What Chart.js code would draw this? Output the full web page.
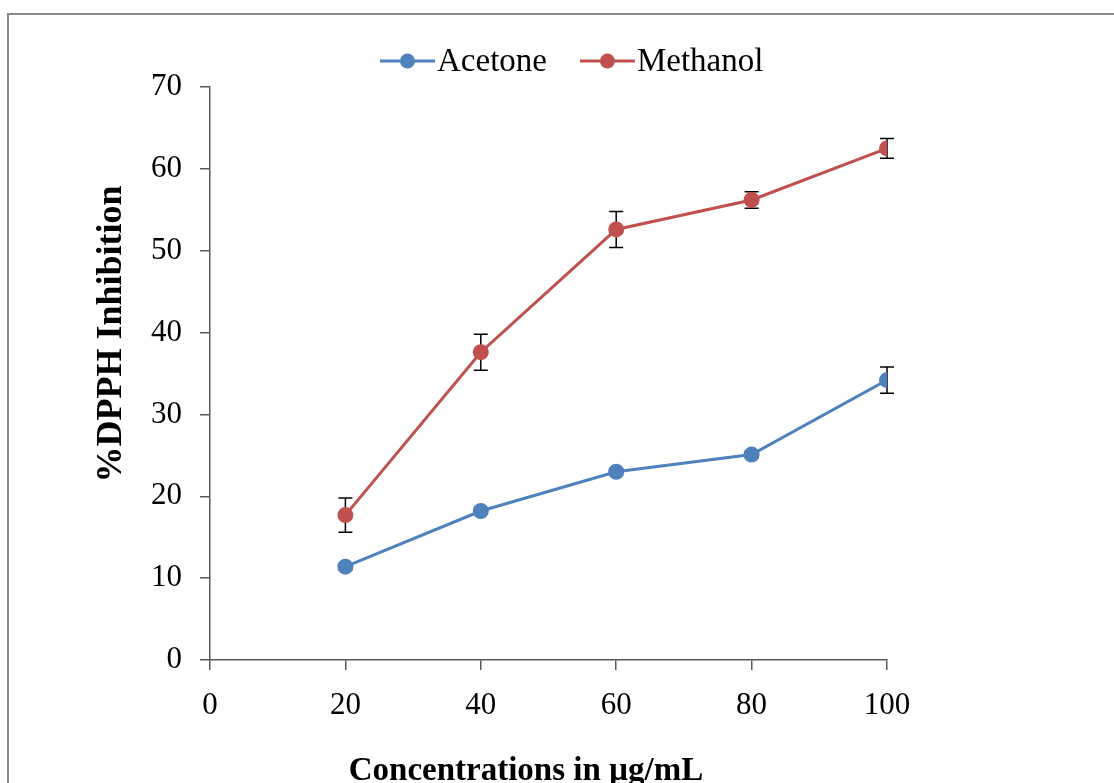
<!DOCTYPE html>
<html>
<head>
<meta charset="utf-8">
<script src="https://cdn.jsdelivr.net/npm/chart.js@4/dist/chart.umd.min.js"></script>
<style>
  html, body { margin: 0; padding: 0; background: #fff; overflow: hidden; }
  #wrap { position: relative; width: 1114px; height: 783px; }
  #frame { position: absolute; left: 7px; top: 13px; width: 1200px; height: 900px;
           border-left: 2px solid #8a8a8a; border-top: 2px solid #8a8a8a; pointer-events: none; }
  canvas { position: absolute; left: 0; top: 0; }
</style>
</head>
<body>
<div id="wrap">
  <canvas id="c" width="1114" height="783"></canvas>
  <div id="frame"></div>
</div>
<script>
// ---- data ----
const concentrations = [20, 40, 60, 80, 100];
const acetone = [11.4, 18.2, 23.0, 25.1, 34.2];
const acetoneErr = [0.4, 0.4, 0.4, 0.4, 1.6];
const methanol = [17.7, 37.6, 52.6, 56.2, 62.5];
const methanolErr = [2.1, 2.2, 2.2, 1.0, 1.2];
const seriesNames = ['Acetone', 'Methanol'];
const xTitle = 'Concentrations in µg/mL';
const yTitle = '%DPPH Inhibition';

const BLUE = '#4F81BD';
const RED = '#C0504D';
const AXIS = '#595959';
const SERIF = '"Liberation Serif", "Times New Roman", serif';

function pts(vals) { return concentrations.map((c, i) => ({ x: c, y: vals[i] })); }

const errorBars = {
  id: 'errorBars',
  beforeDatasetsDraw(chart) {
    const ctx = chart.ctx, xs = chart.scales.x, ys = chart.scales.y;
    ctx.save();
    ctx.strokeStyle = '#000';
    ctx.lineWidth = 1.5;
    chart.data.datasets.forEach(ds => {
      ds.data.forEach((p, i) => {
        const e = ds.errors[i];
        const px = xs.getPixelForValue(p.x);
        const top = ys.getPixelForValue(p.y + e);
        const bot = ys.getPixelForValue(p.y - e);
        ctx.beginPath();
        ctx.moveTo(px, top); ctx.lineTo(px, bot);
        ctx.moveTo(px - 7, top); ctx.lineTo(px + 7, top);
        ctx.moveTo(px - 7, bot); ctx.lineTo(px + 7, bot);
        ctx.stroke();
      });
    });
    ctx.restore();
  }
};

const customText = {
  id: 'customText',
  afterDraw(chart) {
    const ctx = chart.ctx;
    ctx.save();
    // legend
    ctx.font = '33px ' + SERIF;
    ctx.textBaseline = 'alphabetic';
    ctx.textAlign = 'left';
    let x = 380;
    const ly = 61;
    chart.data.datasets.forEach(ds => {
      ctx.strokeStyle = ds.borderColor;
      ctx.lineWidth = 3;
      ctx.beginPath(); ctx.moveTo(x, ly); ctx.lineTo(x + 55, ly); ctx.stroke();
      ctx.fillStyle = ds.backgroundColor;
      ctx.beginPath(); ctx.arc(x + 27.5, ly, 7.5, 0, Math.PI * 2); ctx.fill();
      ctx.fillStyle = '#000';
      ctx.fillText(ds.label, x + 57, 71);
      x += 57 + ctx.measureText(ds.label).width + 33;
    });
    // x title
    ctx.font = 'bold 33px ' + SERIF;
    ctx.textAlign = 'center';
    ctx.fillText(xTitle, 526, 780);
    // y title
    ctx.font = 'bold 36px ' + SERIF;
    ctx.translate(121, 334);
    ctx.rotate(-Math.PI / 2);
    ctx.fillText(yTitle, 0, 0);
    ctx.restore();
  }
};

new Chart(document.getElementById('c'), {
  type: 'line',
  data: {
    datasets: [
      { label: seriesNames[0], data: pts(acetone), errors: acetoneErr,
        borderColor: BLUE, backgroundColor: BLUE, pointBackgroundColor: BLUE, pointBorderColor: BLUE,
        borderWidth: 3, pointRadius: 8, pointHoverRadius: 8, pointBorderWidth: 0, tension: 0 },
      { label: seriesNames[1], data: pts(methanol), errors: methanolErr,
        borderColor: RED, backgroundColor: RED, pointBackgroundColor: RED, pointBorderColor: RED,
        borderWidth: 3, pointRadius: 8, pointHoverRadius: 8, pointBorderWidth: 0, tension: 0 }
    ]
  },
  options: {
    responsive: false,
    animation: false,
    devicePixelRatio: 1,
    layout: { padding: { left: 0, top: 87, right: 227, bottom: 0 } },
    plugins: { legend: { display: false }, tooltip: { enabled: false } },
    scales: {
      x: {
        type: 'linear', min: 0, max: 100,
        ticks: { stepSize: 20, color: '#000', padding: 17, font: { family: SERIF, size: 31 } },
        grid: { drawOnChartArea: false, drawTicks: true, tickLength: 10, color: AXIS, lineWidth: 1.5 },
        border: { display: true, color: AXIS, width: 1.5 },
        afterFit(s) { s.height = 123; }
      },
      y: {
        type: 'linear', min: 0, max: 70,
        ticks: { stepSize: 10, color: '#000', padding: 18, font: { family: SERIF, size: 31 } },
        grid: { drawOnChartArea: false, drawTicks: true, tickLength: 10, color: AXIS, lineWidth: 1.5 },
        border: { display: true, color: AXIS, width: 1.5 },
        afterFit(s) { s.width = 210; }
      }
    }
  },
  plugins: [errorBars, customText]
});
</script>
</body>
</html>
